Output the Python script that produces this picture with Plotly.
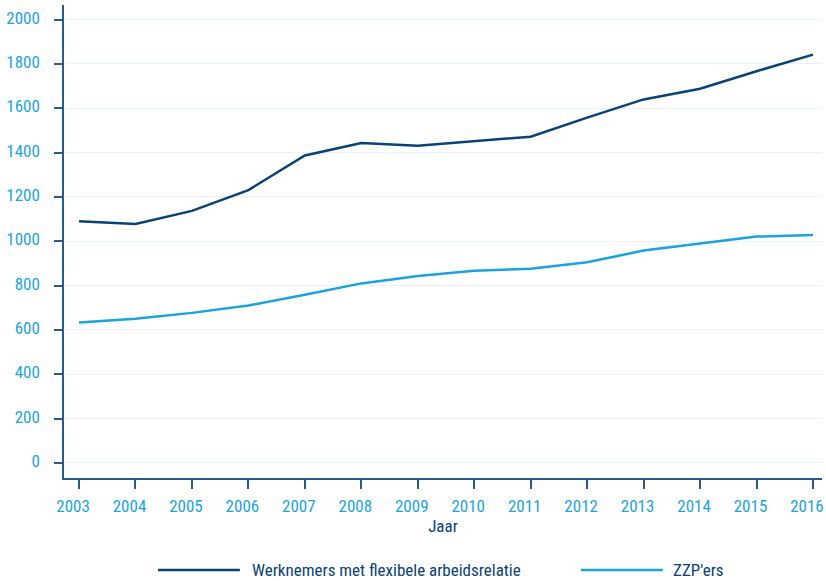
import plotly.graph_objects as go

years = [2003, 2004, 2005, 2006, 2007, 2008, 2009, 2010, 2011, 2012, 2013, 2014, 2015, 2016]
werknemers = [1090, 1078, 1137, 1231, 1387, 1443, 1431, 1452, 1472, 1558, 1640, 1688, 1767, 1842]
zzp = [633, 651, 677, 710, 759, 810, 843, 867, 876, 905, 958, 988, 1021, 1028]
series_names = ["Werknemers met flexibele arbeidsrelatie", "ZZP'ers"]
y_ticks = [0, 200, 400, 600, 800, 1000, 1200, 1400, 1600, 1800, 2000]

DARK = "#0b4275"
LIGHT = "#1ba3dd"
AXIS = "#2a5a88"
FONT = "Roboto Condensed, Noto Sans Condensed, Open Sans Condensed, Liberation Sans Narrow, Roboto, sans-serif"

fig = go.Figure()
fig.add_trace(go.Scatter(x=years, y=werknemers, mode="lines", name=series_names[0],
                         line=dict(color=DARK, width=2.5), showlegend=False))
fig.add_trace(go.Scatter(x=years, y=zzp, mode="lines", name=series_names[1],
                         line=dict(color=LIGHT, width=2.5), showlegend=False))

# manual legend (long line samples as in the reference)
legend_items = [(0.124, 0.232, 0.249, DARK, series_names[0]),
                (0.682, 0.790, 0.805, LIGHT, series_names[1])]
for x0, x1, xt, col, name in legend_items:
    fig.add_shape(type="line", xref="paper", yref="paper", x0=x0, x1=x1, y0=-0.1945, y1=-0.1945,
                  line=dict(color=col, width=2.5))
    fig.add_annotation(xref="paper", yref="paper", x=xt, y=-0.1945, text=name, showarrow=False,
                       xanchor="left", yanchor="middle", xshift=-3,
                       font=dict(family=FONT, size=17, color=DARK))

fig.update_layout(
    width=826, height=581,
    margin=dict(l=64, r=4, t=5, b=103),
    paper_bgcolor="white", plot_bgcolor="white",
    font=dict(family=FONT, size=17, color=LIGHT),
    xaxis=dict(range=[2002.734, 2016.16], tickvals=years, ticktext=[str(y) for y in years],
               showgrid=False, zeroline=False, showline=True, linecolor=AXIS, linewidth=1.5,
               ticks="outside", ticklen=9, tickcolor=AXIS, tickwidth=1.5,
               tickfont=dict(family=FONT, size=17, color=LIGHT), automargin=False,
               ticklabeloverflow="allow", ticklabelshift=-6, ticklabelstandoff=3,
               title=dict(text="Jaar", font=dict(family=FONT, size=17, color=DARK), standoff=0)),
    yaxis=dict(range=[-68, 2066], tickvals=y_ticks,
               showgrid=True, gridcolor="#e6f1fa", gridwidth=1.2, zeroline=False,
               showline=True, linecolor=AXIS, linewidth=1.5, automargin=False,
               ticks="outside", ticklen=8, tickcolor=AXIS, tickwidth=1.5,
               tickfont=dict(family=FONT, size=17, color=LIGHT), ticklabelstandoff=11,
               ticklabelshift=-2),
)

fig.write_html("out.html", config={"displayModeBar": False},
               post_script="document.body.style.margin='0';document.body.style.overflow='hidden';")
